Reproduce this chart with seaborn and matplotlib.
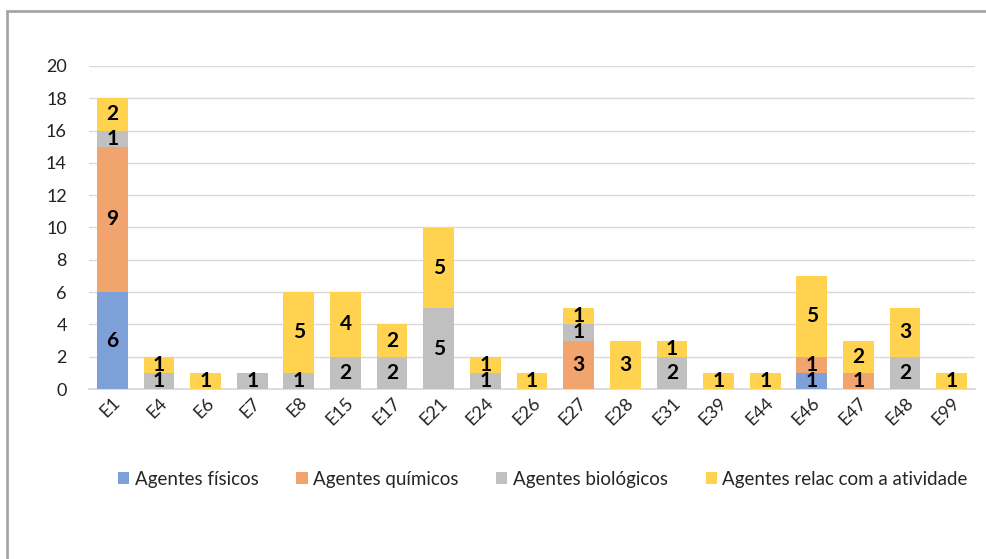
import numpy as np
import pandas as pd
import seaborn as sns
import matplotlib.pyplot as plt
from matplotlib.lines import Line2D
from matplotlib.patches import Patch

# dados
categorias = ["E1", "E4", "E6", "E7", "E8", "E15", "E17", "E21", "E24", "E26",
              "E27", "E28", "E31", "E39", "E44", "E46", "E47", "E48", "E99"]
fisicos    = [6, 0, 0, 0, 0, 0, 0, 0, 0, 0, 0, 0, 0, 0, 0, 1, 0, 0, 0]
quimicos   = [9, 0, 0, 0, 0, 0, 0, 0, 0, 0, 3, 0, 0, 0, 0, 1, 1, 0, 0]
biologicos = [1, 1, 0, 1, 1, 2, 2, 5, 1, 0, 1, 0, 2, 0, 0, 0, 0, 2, 0]
atividade  = [2, 1, 1, 0, 5, 4, 2, 5, 1, 1, 1, 3, 1, 1, 1, 5, 2, 3, 1]

series = {
    "Agentes físicos": fisicos,
    "Agentes químicos": quimicos,
    "Agentes biológicos": biologicos,
    "Agentes relac com a atividade": atividade,
}
cores = ["#7DA0D8", "#F2A46E", "#C0C0C0", "#FFD34F"]

sns.set_theme(style="white")
plt.rcParams['font.family'] = ['Lato', 'DejaVu Sans']

fig = plt.figure(figsize=(9.87, 5.59), dpi=100)
ax = fig.add_axes([89 / 987, 1 - 389 / 559, (975 - 89) / 987, (389 - 66) / 559])

base = np.zeros(len(categorias))
for (nome, vals), cor in zip(series.items(), cores):
    vals = np.array(vals, dtype=float)
    sns.barplot(x=categorias, y=vals, bottom=base, color=cor, width=0.66,
                saturation=1, ax=ax, zorder=3, linewidth=0)
    for i, v in enumerate(vals):
        if v > 0:
            ax.text(i, base[i] + v / 2, f"{int(v)}", ha="center", va="center",
                    fontsize=15, fontweight="bold", color="black", zorder=4)
    base += vals

ax.set_ylim(0, 20)
ax.set_xlim(-0.5, len(categorias) - 0.5)
ax.set_yticks(range(0, 21, 2))
ax.yaxis.grid(True, color="#D9D9D9", linewidth=1, zorder=0)
for s in ["top", "right", "left"]:
    ax.spines[s].set_visible(False)
ax.spines["bottom"].set_color("#D9D9D9")
ax.tick_params(axis="y", length=0, labelsize=13, pad=16, colors="#222222")
ax.tick_params(axis="x", length=0, labelsize=13, pad=4, colors="#222222")
plt.setp(ax.get_xticklabels(), rotation=45, ha="right", rotation_mode="anchor")
ax.set_xlabel("")
ax.set_ylabel("")

handles = [Patch(facecolor=c, edgecolor="none") for c in cores]
fig.legend(handles, list(series.keys()), loc="center", ncol=4,
           bbox_to_anchor=(543 / 987, 1 - 479 / 559), frameon=False,
           fontsize=13.5, handlelength=0.6, handleheight=0.6, handletextpad=0.3,
           columnspacing=2.0)

# moldura cinza
fig.add_artist(Line2D([7 / 987, 7 / 987], [0, 1 - 11 / 559], color="#A6A6A6",
                      linewidth=2, transform=fig.transFigure))
fig.add_artist(Line2D([7 / 987, 1], [1 - 11 / 559, 1 - 11 / 559], color="#A6A6A6",
                      linewidth=2, transform=fig.transFigure))

fig.savefig("out.png", dpi=100)
